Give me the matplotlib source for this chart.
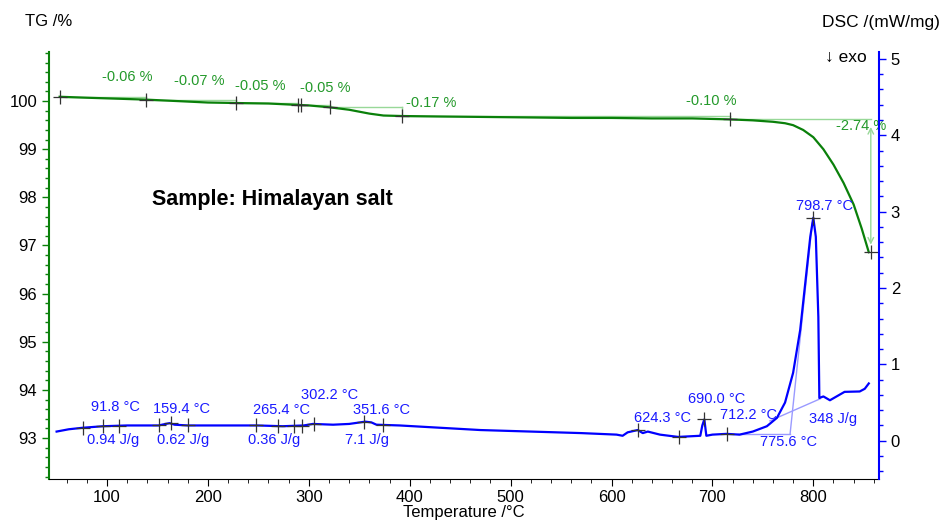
import numpy as np
import matplotlib.pyplot as plt
from matplotlib.ticker import MultipleLocator

plt.rcParams['font.family'] = ['Liberation Sans', 'DejaVu Sans']

# TG curve (temperature in C, mass in %)
tg_temp = [53, 80, 110, 139, 170, 200, 228, 260, 289, 300, 321, 340, 360, 374, 392, 430,
           476, 520, 560, 600, 640, 680, 717, 740, 760, 772, 780, 790, 800, 810, 820,
           830, 840, 848, 855]
tg_val = [100.09, 100.07, 100.05, 100.03, 100.00, 99.97, 99.96, 99.95, 99.92, 99.91, 99.87,
          99.82, 99.74, 99.70, 99.69, 99.68, 99.67, 99.66, 99.65, 99.65, 99.64, 99.64,
          99.62, 99.60, 99.57, 99.54, 99.50, 99.40, 99.25, 99.00, 98.68, 98.30, 97.85,
          97.35, 96.86]

# TG step points and labels
tg_step_t = [53, 139, 228, 289, 292, 321, 392, 717, 857]
tg_step_v = [100.09, 100.03, 99.96, 99.92, 99.91, 99.87, 99.69, 99.62, 96.86]
tg_lbl = ['-0.06 %', '-0.07 %', '-0.05 %', '-0.05 %', '-0.17 %', '-0.10 %', '-2.74 %']
tg_lbl_t = [120, 191, 252, 316, 421, 699, 847]
tg_lbl_v = [100.50, 100.42, 100.31, 100.27, 99.97, 100.01, 99.48]
tg_ticks = [93, 94, 95, 96, 97, 98, 99, 100]

# DSC curve (mW/mg)
dsc_temp = [50, 62, 76, 96, 120, 151, 158, 162, 167, 180, 220, 249, 274, 295, 304, 324,
            340, 356, 362, 367, 390, 430, 470, 520, 570, 605, 611, 616, 626, 631, 636,
            648, 666, 688, 690, 692, 694, 700, 714, 727, 740, 754, 764, 772, 780,
            787, 797, 800, 802.5, 805, 806, 810, 816.5, 831, 846, 851, 855]
dsc_val = [0.12, 0.15, 0.17, 0.19, 0.20, 0.20, 0.22, 0.23, 0.21, 0.20, 0.20, 0.20, 0.19,
           0.20, 0.22, 0.21, 0.22, 0.25, 0.24, 0.21, 0.20, 0.17, 0.14, 0.12, 0.10, 0.08,
           0.065, 0.11, 0.14, 0.10, 0.12, 0.08, 0.05, 0.065, 0.20, 0.28, 0.065, 0.08,
           0.09, 0.08, 0.12, 0.19, 0.30, 0.50, 0.89, 1.45, 2.67, 2.92, 2.67, 1.62,
           0.56, 0.58, 0.53, 0.64, 0.645, 0.68, 0.75]

# DSC marker temps
dsc_mark_t = [76, 96, 112, 151, 163, 180, 248, 269, 285, 293, 305, 355, 374,
              626, 667, 692, 714, 800]
dsc_lbl = ['91.8 °C', '0.94 J/g', '159.4 °C', '0.62 J/g', '265.4 °C', '0.36 J/g',
           '302.2 °C', '351.6 °C', '7.1 J/g', '624.3 °C', '690.0 °C', '712.2 °C',
           '775.6 °C', '348 J/g', '798.7 °C']
dsc_lbl_t = [108, 106, 174, 175, 273, 266, 321, 372, 358, 651, 704, 736, 775, 820, 811]
dsc_lbl_v = [0.44, 0.01, 0.41, 0.01, 0.40, 0.01, 0.60, 0.40, 0.01, 0.30, 0.54, 0.34,
             -0.02, 0.28, 3.07]

fig = plt.figure(figsize=(9.43, 5.20), dpi=100)
ax = fig.add_axes([0.052, 0.079, 0.880, 0.821])
ax2 = ax.twinx()

green = '#0a800a'
green_txt = '#23992a'
light_green = '#98d898'
blue = '#0000ff'
blue_txt = '#1a1aff'
light_blue = '#9a9aff'

# TG
ax.plot(tg_temp, tg_val, color=green, lw=1.6, zorder=3)
for i in range(len(tg_step_t) - 2):
    ax.plot([tg_step_t[i], tg_step_t[i + 1]], [tg_step_v[i], tg_step_v[i]], color=light_green, lw=1, zorder=2)
    ax.plot([tg_step_t[i + 1], tg_step_t[i + 1]], [tg_step_v[i], tg_step_v[i + 1]], color=light_green, lw=1, zorder=2)
ax.plot([tg_step_t[-2], tg_step_t[-1]], [tg_step_v[-2], tg_step_v[-2]], color=light_green, lw=1, zorder=2)
ax.annotate('', xy=(tg_step_t[-1], tg_step_v[-1] + 0.1), xytext=(tg_step_t[-1], tg_step_v[-2] - 0.1),
            arrowprops=dict(arrowstyle='<->', color=light_green, lw=1))
ax.plot(tg_step_t, tg_step_v, ls='none', marker='+', ms=10, mew=0.9, color='#333333', zorder=4)
for s, t, v in zip(tg_lbl, tg_lbl_t, tg_lbl_v):
    ax.text(t, v, s, color=green_txt, fontsize=10.5, ha='center', va='center')

ax.text(145, 97.95, 'Sample: Himalayan salt', fontsize=15.5, fontweight='bold', va='center')

# DSC
ax2.plot(dsc_temp, dsc_val, color=blue, lw=1.6, zorder=3)
ax2.plot([725, 777], [0.09, 0.09], color=light_blue, lw=1)
ax2.plot([777, 799], [0.09, 2.85], color=light_blue, lw=1)
ax2.plot([757, 807], [0.26, 0.55], color=light_blue, lw=1)
ax2.plot(dsc_mark_t, np.interp(dsc_mark_t, dsc_temp, dsc_val), ls='none', marker='+', ms=10,
         mew=0.9, color='#333333', zorder=4)
for s, t, v in zip(dsc_lbl, dsc_lbl_t, dsc_lbl_v):
    ax2.text(t, v, s, color=blue_txt, fontsize=10.5, ha='center', va='center')

ax.set_xlim(42.5, 865)
ax.set_ylim(92.15, 101.02)
ax2.set_ylim(-0.50, 5.09)

ax.xaxis.set_major_locator(MultipleLocator(100))
ax.xaxis.set_minor_locator(MultipleLocator(20))
ax.set_yticks(tg_ticks)
ax.yaxis.set_minor_locator(MultipleLocator(0.2))
ax2.yaxis.set_major_locator(MultipleLocator(1))
ax2.yaxis.set_minor_locator(MultipleLocator(0.2))

for a in (ax, ax2):
    a.spines['top'].set_visible(False)
ax.spines['right'].set_visible(False)
ax2.spines['left'].set_visible(False)
ax2.spines['bottom'].set_visible(False)
ax.spines['left'].set_color(green)
ax.spines['left'].set_linewidth(1.5)
ax2.spines['right'].set_color(blue)
ax2.spines['right'].set_linewidth(1.5)

ax.tick_params(axis='y', which='major', colors=green, labelcolor='black', length=5, width=1, labelsize=12)
ax.tick_params(axis='y', which='minor', colors=green, length=3, width=1)
ax2.tick_params(axis='y', which='major', colors=blue, labelcolor='black', length=5, width=1, labelsize=12)
ax2.tick_params(axis='y', which='minor', colors=blue, length=3, width=1)
ax.tick_params(axis='x', which='major', length=5, labelsize=12, pad=3)
ax.tick_params(axis='x', which='minor', length=3)

ax.set_xlabel('Temperature /°C', fontsize=12, labelpad=0)
fig.text(25 / 943, 1 - 22 / 520, 'TG /%', fontsize=12, va='center', ha='left')
fig.text(940 / 943, 1 - 22 / 520, 'DSC /(mW/mg)', fontsize=12.5, va='center', ha='right')
fig.text(825 / 943, 1 - 57 / 520, '↓ exo', fontsize=12.5, va='center', ha='left',
         family=['Liberation Sans', 'DejaVu Sans'])

fig.savefig('out.png', dpi=100)
